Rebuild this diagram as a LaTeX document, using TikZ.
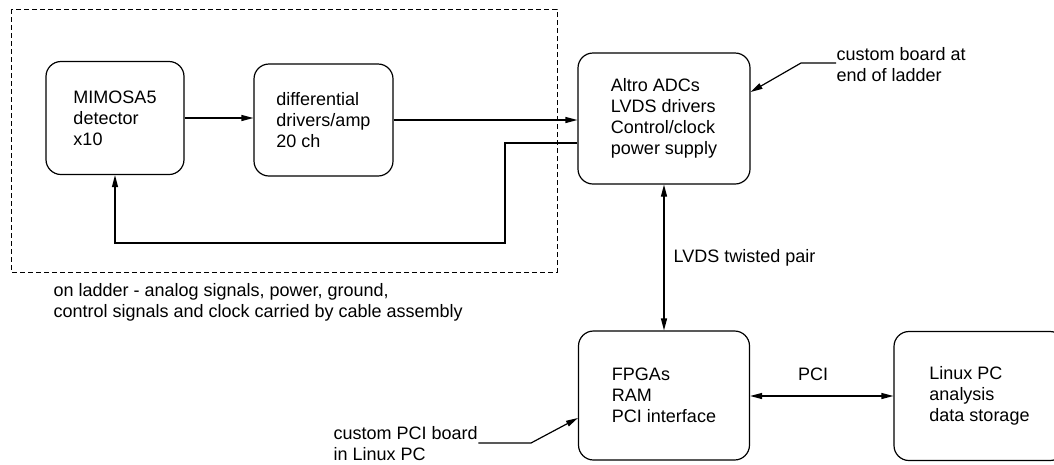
\documentclass[tikz,border=0pt]{standalone}
\usepackage{fontspec}
\setmainfont{Liberation Sans}
\usetikzlibrary{arrows.meta}
\begin{document}
\begin{tikzpicture}[x=1pt,y=-1pt,
  font=\fontsize{18}{21}\selectfont,
  line width=1.2pt,
  blk/.style={draw, rounded corners=15pt, align=left, inner sep=0pt},
  lbl/.style={align=left, inner sep=0pt},
  arr/.style={-{Triangle[length=12pt,width=6pt]}},
  darr/.style={{Triangle[length=12pt,width=6pt]}-{Triangle[length=12pt,width=6pt]}},
  grp/.style={draw, line width=1pt, dash pattern=on 5pt off 3pt}
]
\useasboundingbox (0,0) rectangle (1054,464);
\clip (0,0) rectangle (1054,464);

% group frame
\draw[grp] (11,9) rectangle (557,272);

% blocks
\node[blk, minimum width=138pt, minimum height=113pt] (mimosa) at (115,118) {MIMOSA5\\detector\\x10};
\node[blk, minimum width=139pt, minimum height=112pt] (diff) at (323.5,120) {differential\\drivers/amp\\20 ch};
\node[blk, minimum width=172pt, minimum height=131pt] (altro) at (664,118.5) {Altro ADCs\\LVDS drivers\\Control/clock\\power supply};
\node[blk, minimum width=171pt, minimum height=129pt] (fpga) at (664,395.5) {FPGAs\\RAM\\PCI interface};
\node[blk, minimum width=171pt, minimum height=129pt] (linux) at (979.5,396) {Linux PC\\analysis\\data storage};

% labels
\node[lbl, anchor=west] (ladder) at (53,302.5) {on ladder - analog signals, power, ground,\\control signals and clock carried by cable assembly};
\node[lbl, anchor=west] (lvds) at (673,258) {LVDS twisted pair};
\node[lbl] (pci) at (813,374) {PCI};
\node[lbl, anchor=west] (cb) at (836,64.5) {custom board at\\end of ladder};
\node[lbl, anchor=west] (cp) at (333,443.5) {custom PCI board\\in Linux PC};

% connectors
\draw[arr] (mimosa.east) -- (mimosa.east -| diff.west);
\draw[arr] (diff.east) -- (diff.east -| altro.west);

\coordinate (r1) at (505,143);
\coordinate (r2) at (505,243);
\draw[arr] (altro.west |- r1) -- (r1) -- (r2) -- (r2 -| mimosa.south) -- (mimosa.south);

\draw[darr] (altro.south) -- (altro.south |- fpga.north);
\draw[darr] (linux.west -| fpga.east) -- (linux.west);

\coordinate (cbk) at (801,63);
\coordinate (cbt) at (752,92);
\draw[arr] (cb.west |- cbk) -- (cbk) -- (altro.east |- cbt);

\coordinate (cpk) at (531,443);
\coordinate (cpt) at (577,418);
\draw[arr] (cp.east |- cpk) -- (cpk) -- (fpga.west |- cpt);
\end{tikzpicture}
\end{document}
